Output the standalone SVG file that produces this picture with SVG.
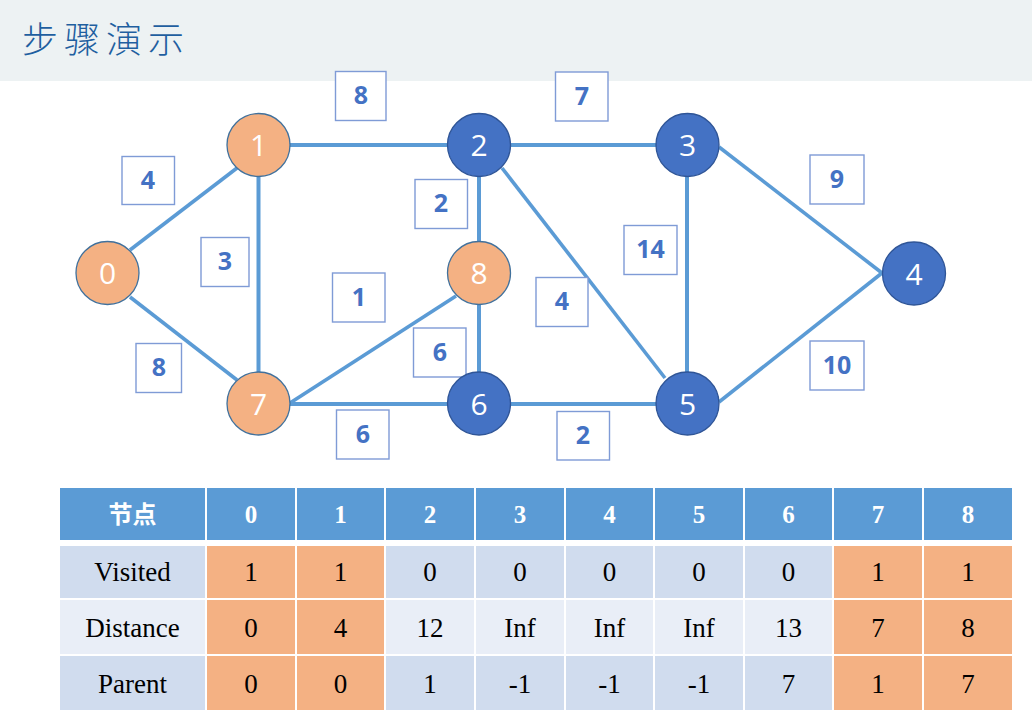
<svg xmlns="http://www.w3.org/2000/svg" width="1032" height="717" viewBox="0 0 1032 717">
<style>
.edge{stroke:#5B9BD5;stroke-width:4;fill:none;stroke-linecap:butt}
.diag{stroke-width:3.6}
.box{fill:#fff;stroke:#7F9BD6;stroke-width:1.4}
.wt{font-family:"Open Sans","Noto Sans",sans-serif;font-weight:bold;font-size:25px;fill:#4472C4;text-anchor:middle}
.on{fill:#F4B183;stroke:#41719C;stroke-width:1.3}
.bn{fill:#4472C4;stroke:#2F5597;stroke-width:1.3}
.nt{font-family:"Open Sans","Noto Sans",sans-serif;font-size:30px;fill:#fff;text-anchor:middle}
.hd{fill:#5B9BD5}
.r1{fill:#D0DCEE}
.r2{fill:#E9EEF7}
.or{fill:#F4B183}
.ht{font-family:"Liberation Serif",serif;font-weight:bold;font-size:25px;fill:#fff;text-anchor:middle}
.tt{font-family:"Liberation Serif",serif;font-size:27px;fill:#000;text-anchor:middle}
</style>
<rect x="0" y="0" width="1032" height="717" fill="#fff"/>
<rect x="0" y="0" width="1032" height="81" fill="#EDF2F3"/>
<text x="22" y="53" font-family="'Noto Sans CJK SC',serif" font-size="36" font-weight="300" letter-spacing="6" fill="#1F5FA0">步骤演示</text>

<g id="connectors">
<line class="edge diag" x1="130" y1="250" x2="237" y2="168"/>
<line class="edge diag" x1="130" y1="297" x2="237" y2="380"/>
<line class="edge" x1="258.5" y1="145" x2="479" y2="145"/>
<line class="edge" x1="258.5" y1="145" x2="258.5" y2="404"/>
<line class="edge" x1="479" y1="145" x2="687" y2="145"/>
<line class="edge" x1="479" y1="145" x2="479" y2="404"/>
<line class="edge diag" x1="502" y1="168" x2="665" y2="378"/>
<line class="edge diag" x1="290" y1="403" x2="456" y2="296"/>
<line class="edge" x1="258.5" y1="404" x2="687" y2="404"/>
<line class="edge" x1="687" y1="145" x2="687" y2="404"/>
<line class="edge diag" x1="719" y1="147" x2="882" y2="273"/>
<line class="edge diag" x1="719" y1="402" x2="882" y2="273"/>
</g>

<g id="weights">
<rect class="box" x="335.5" y="71.5" width="50.5" height="49"/><text class="wt" x="361" y="104">8</text>
<rect class="box" x="555.5" y="72" width="52.5" height="49"/><text class="wt" x="582" y="105">7</text>
<rect class="box" x="122" y="156.5" width="52.5" height="48"/><text class="wt" x="148" y="189">4</text>
<rect class="box" x="201" y="237.5" width="48" height="49"/><text class="wt" x="225" y="270">3</text>
<rect class="box" x="136" y="343.5" width="45.5" height="49"/><text class="wt" x="159" y="376">8</text>
<rect class="box" x="415" y="179.5" width="52.5" height="49"/><text class="wt" x="441" y="212">2</text>
<rect class="box" x="332.5" y="273" width="52.5" height="49"/><text class="wt" x="359" y="306">1</text>
<rect class="box" x="413.5" y="328" width="52.5" height="49"/><text class="wt" x="440" y="361">6</text>
<rect class="box" x="336.5" y="410" width="52.5" height="49"/><text class="wt" x="363" y="443">6</text>
<rect class="box" x="557" y="411.5" width="52.5" height="48.5"/><text class="wt" x="583" y="444">2</text>
<rect class="box" x="536" y="277.5" width="52" height="49"/><text class="wt" x="562" y="310">4</text>
<rect class="box" x="624" y="225.5" width="53" height="49"/><text class="wt" x="650.5" y="258">14</text>
<rect class="box" x="810" y="155" width="54" height="49"/><text class="wt" x="837" y="188">9</text>
<rect class="box" x="810" y="341" width="54" height="49"/><text class="wt" x="837" y="374">10</text>
</g>

<g id="node0"><circle class="on" cx="107.5" cy="273" r="31.5"/><text class="nt" x="107.5" y="284">0</text></g>
<g id="node1"><circle class="on" cx="258.5" cy="145" r="31.5"/><text class="nt" x="258.5" y="156">1</text></g>
<g id="node2"><circle class="bn" cx="479" cy="145" r="31.5"/><text class="nt" x="479" y="156">2</text></g>
<g id="node3"><circle class="bn" cx="687.5" cy="145" r="31.5"/><text class="nt" x="687.5" y="156">3</text></g>
<g id="node4"><circle class="bn" cx="914" cy="273.5" r="31.5"/><text class="nt" x="914" y="284.5">4</text></g>
<g id="node5"><circle class="bn" cx="687.5" cy="403.5" r="31.5"/><text class="nt" x="687.5" y="414.5">5</text></g>
<g id="node6"><circle class="bn" cx="479" cy="403.5" r="31.5"/><text class="nt" x="479" y="414.5">6</text></g>
<g id="node7"><circle class="on" cx="258.5" cy="403.5" r="31.5"/><text class="nt" x="258.5" y="414.5">7</text></g>
<g id="node8"><circle class="on" cx="479" cy="273" r="31.5"/><text class="nt" x="479" y="284">8</text></g>

<g id="table">
<rect class="hd" x="60" y="488" width="145" height="52"/>
<rect class="hd" x="207" y="488" width="88" height="52"/>
<rect class="hd" x="297" y="488" width="87" height="52"/>
<rect class="hd" x="386" y="488" width="88" height="52"/>
<rect class="hd" x="476" y="488" width="88" height="52"/>
<rect class="hd" x="566" y="488" width="87" height="52"/>
<rect class="hd" x="655" y="488" width="88" height="52"/>
<rect class="hd" x="745" y="488" width="87" height="52"/>
<rect class="hd" x="834" y="488" width="88" height="52"/>
<rect class="hd" x="924" y="488" width="88" height="52"/>
<text x="132.5" y="523" font-family="'Noto Sans CJK SC',sans-serif" font-weight="bold" font-size="24" fill="#fff" text-anchor="middle">节点</text>
<text class="ht" x="251" y="523">0</text>
<text class="ht" x="340.5" y="523">1</text>
<text class="ht" x="430" y="523">2</text>
<text class="ht" x="520" y="523">3</text>
<text class="ht" x="609.5" y="523">4</text>
<text class="ht" x="699" y="523">5</text>
<text class="ht" x="788.5" y="523">6</text>
<text class="ht" x="878" y="523">7</text>
<text class="ht" x="968" y="523">8</text>

<rect class="r1" x="60" y="546" width="145" height="52"/>
<rect class="or" x="207" y="546" width="88" height="52"/>
<rect class="or" x="297" y="546" width="87" height="52"/>
<rect class="r1" x="386" y="546" width="88" height="52"/>
<rect class="r1" x="476" y="546" width="88" height="52"/>
<rect class="r1" x="566" y="546" width="87" height="52"/>
<rect class="r1" x="655" y="546" width="88" height="52"/>
<rect class="r1" x="745" y="546" width="87" height="52"/>
<rect class="or" x="834" y="546" width="88" height="52"/>
<rect class="or" x="924" y="546" width="88" height="52"/>

<rect class="r2" x="60" y="600" width="145" height="54"/>
<rect class="or" x="207" y="600" width="88" height="54"/>
<rect class="or" x="297" y="600" width="87" height="54"/>
<rect class="r2" x="386" y="600" width="88" height="54"/>
<rect class="r2" x="476" y="600" width="88" height="54"/>
<rect class="r2" x="566" y="600" width="87" height="54"/>
<rect class="r2" x="655" y="600" width="88" height="54"/>
<rect class="r2" x="745" y="600" width="87" height="54"/>
<rect class="or" x="834" y="600" width="88" height="54"/>
<rect class="or" x="924" y="600" width="88" height="54"/>

<rect class="r1" x="60" y="656" width="145" height="54"/>
<rect class="or" x="207" y="656" width="88" height="54"/>
<rect class="or" x="297" y="656" width="87" height="54"/>
<rect class="r1" x="386" y="656" width="88" height="54"/>
<rect class="r1" x="476" y="656" width="88" height="54"/>
<rect class="r1" x="566" y="656" width="87" height="54"/>
<rect class="r1" x="655" y="656" width="88" height="54"/>
<rect class="r1" x="745" y="656" width="87" height="54"/>
<rect class="or" x="834" y="656" width="88" height="54"/>
<rect class="or" x="924" y="656" width="88" height="54"/>

<text class="tt" x="132.5" y="581">Visited</text>
<text class="tt" x="251" y="581">1</text>
<text class="tt" x="340.5" y="581">1</text>
<text class="tt" x="430" y="581">0</text>
<text class="tt" x="520" y="581">0</text>
<text class="tt" x="609.5" y="581">0</text>
<text class="tt" x="699" y="581">0</text>
<text class="tt" x="788.5" y="581">0</text>
<text class="tt" x="878" y="581">1</text>
<text class="tt" x="968" y="581">1</text>

<text class="tt" x="132.5" y="637">Distance</text>
<text class="tt" x="251" y="637">0</text>
<text class="tt" x="340.5" y="637">4</text>
<text class="tt" x="430" y="637">12</text>
<text class="tt" x="520" y="637">Inf</text>
<text class="tt" x="609.5" y="637">Inf</text>
<text class="tt" x="699" y="637">Inf</text>
<text class="tt" x="788.5" y="637">13</text>
<text class="tt" x="878" y="637">7</text>
<text class="tt" x="968" y="637">8</text>

<text class="tt" x="132.5" y="693">Parent</text>
<text class="tt" x="251" y="693">0</text>
<text class="tt" x="340.5" y="693">0</text>
<text class="tt" x="430" y="693">1</text>
<text class="tt" x="520" y="693">-1</text>
<text class="tt" x="609.5" y="693">-1</text>
<text class="tt" x="699" y="693">-1</text>
<text class="tt" x="788.5" y="693">7</text>
<text class="tt" x="878" y="693">1</text>
<text class="tt" x="968" y="693">7</text>
</g>
</svg>
